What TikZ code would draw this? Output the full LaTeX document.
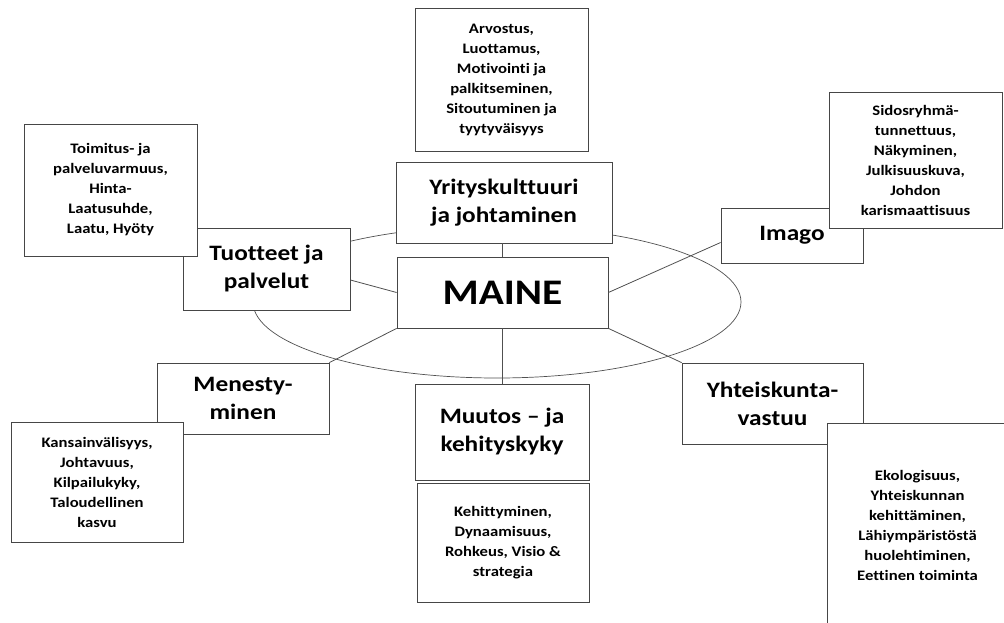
\documentclass[tikz,border=0pt]{standalone}
\usepackage{fontspec}
\setmainfont{Carlito}[FakeStretch=1.15, Ligatures=NoCommon]
\usepackage{tikz}
\usetikzlibrary{positioning}
\definecolor{boxline}{RGB}{70,70,70}
\definecolor{linkgray}{RGB}{80,80,80}

\begin{document}
\begin{tikzpicture}[
  x=1pt, y=-1pt,
  corebox/.style={draw=boxline, fill=white, line width=0.8pt, align=center,
                  inner sep=0pt, font=\fontsize{36}{40}\selectfont\bfseries},
  topicbox/.style={draw=boxline, fill=white, line width=0.8pt, align=center,
                   inner sep=0pt, font=\fontsize{22}{28}\selectfont\bfseries},
  detailbox/.style={draw=boxline, fill=white, line width=0.8pt, align=center,
                    inner sep=0pt, font=\fontsize{14.5}{20}\selectfont\bfseries},
  link/.style={draw=linkgray, line width=0.8pt},
]
\useasboundingbox (0,0) rectangle (1004,623);

% =================================================================
% RING
% =================================================================
\draw[linkgray, line width=0.7pt] (497,302) ellipse [x radius=244, y radius=76];

% =================================================================
% CENTRE
% =================================================================
\node[corebox, minimum width=211pt, minimum height=71pt] (maine) at (502.5,292.5) {MAINE};

% =================================================================
% TOPICS
% =================================================================
\node[topicbox, minimum width=216pt, minimum height=81pt] (yrit) at (504,202.5)
  {Yrityskulttuuri\\ja johtaminen};
\node[topicbox, minimum width=167pt, minimum height=82pt] (tuot) at (266.5,269)
  {Tuotteet ja\\palvelut};
\node[topicbox, minimum width=142pt, minimum height=55pt] (imago) at (792,235.5)
  {Imago};
\node[topicbox, minimum width=172pt, minimum height=71pt] (menes) at (243,398.5)
  {Menesty-\\minen};
\node[topicbox, minimum width=174pt, minimum height=96pt] (muut) at (502,432)
  {Muutos -- ja\\kehityskyky};
\node[topicbox, minimum width=181pt, minimum height=81pt] (yht) at (772.5,403.5)
  {Yhteiskunta-\\vastuu};

% =================================================================
% DETAILS
% =================================================================
\node[detailbox, minimum width=173pt, minimum height=143pt] (arvo) at (501.5,79.5)
  {Arvostus,\\Luottamus,\\Motivointi ja\\palkitseminen,\\Sitoutuminen ja\\tyytyväisyys};
\node[detailbox, minimum width=173pt, minimum height=132pt] (toim) at (110.5,190)
  {Toimitus- ja\\palveluvarmuus,\\Hinta-\\Laatusuhde,\\Laatu, Hyöty};
\node[detailbox, minimum width=173pt, minimum height=136pt] (sidos) at (915.5,160)
  {Sidosryhmä-\\tunnettuus,\\Näkyminen,\\Julkisuuskuva,\\Johdon\\karismaattisuus};
\node[detailbox, minimum width=172pt, minimum height=120pt] (kans) at (97,482)
  {Kansainvälisyys,\\Johtavuus,\\Kilpailukyky,\\Taloudellinen\\kasvu};
\node[detailbox, minimum width=172pt, minimum height=119pt] (kehi) at (503,542.5)
  {Kehittyminen,\\Dynaamisuus,\\Rohkeus, Visio \&\\strategia};
\node[detailbox, minimum width=181pt, minimum height=205pt] (eko) at (917.5,525.5)
  {Ekologisuus,\\Yhteiskunnan\\kehittäminen,\\Lähiympäristöstä\\huolehtiminen,\\Eettinen toiminta};

% Links from the centre
\draw[link] (maine.north) -- (yrit.south -| maine.north);
\draw[link] (maine.west) -- ([yshift=-11pt]tuot.east);
\draw[link] (maine.east) -- ([yshift=-7pt]imago.west);
\draw[link] (maine.south west) -- (menes.north east);
\draw[link] (maine.south) -- (muut.north -| maine.south);
\draw[link] (maine.south east) -- (yht.north west);

\end{tikzpicture}
\end{document}
